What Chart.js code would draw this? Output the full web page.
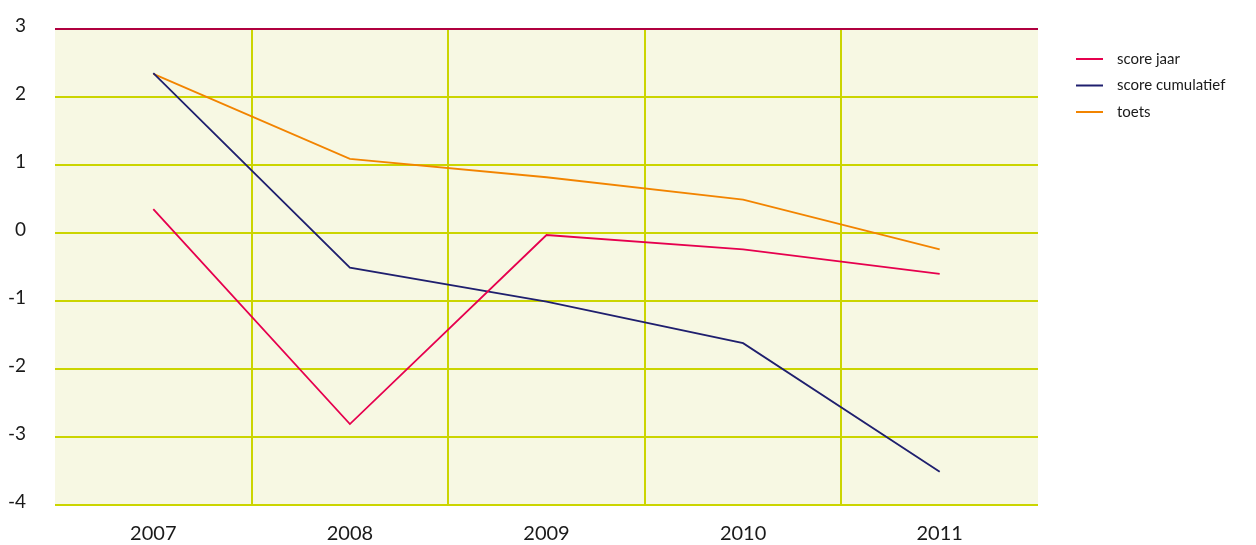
<!DOCTYPE html>
<html>
<head>
<meta charset="utf-8">
<script src="https://cdn.jsdelivr.net/npm/chart.js@4/dist/chart.umd.min.js"></script>
<style>
  html, body { margin: 0; padding: 0; background: #ffffff; }
  #wrap { width: 1256px; height: 545px; position: relative; }
</style>
</head>
<body>
<div id="wrap"><canvas id="c" width="1256" height="545"></canvas></div>
<script>
// Years along the x axis
const years = ['2007', '2008', '2009', '2010', '2011'];

// Series values per year
const scoreJaar = [0.35, -2.81, -0.03, -0.24, -0.60];
const scoreCumulatief = [2.35, -0.51, -1.01, -1.62, -3.51];
const toets = [2.34, 1.09, 0.82, 0.49, -0.24];

// Series names
const seriesNames = ['score jaar', 'score cumulatief', 'toets'];

// Y axis range
const yMin = -4;
const yMax = 3;

const colors = ['#e6004e', '#1f1f6e', '#f28400'];
const gridColor = '#cbd500';
const topLineColor = '#b0003f';
const plotFill = '#f7f8e3';

// Fills the plotting area with a pale background
const plotBackground = {
  id: 'plotBackground',
  beforeDraw(chart) {
    const { ctx, chartArea: a } = chart;
    ctx.save();
    ctx.fillStyle = plotFill;
    ctx.fillRect(a.left, a.top, a.right - a.left, a.bottom - a.top);
    ctx.restore();
  }
};

// Legend drawn to the right of the plot: short line + label per series
const sideLegend = {
  id: 'sideLegend',
  afterDraw(chart) {
    const { ctx } = chart;
    ctx.save();
    ctx.font = '15px Lato, "Open Sans", sans-serif';
    ctx.textBaseline = 'middle';
    ctx.textAlign = 'left';
    chart.data.datasets.forEach((ds, i) => {
      const y = 59 + i * 26.5;
      ctx.strokeStyle = ds.borderColor;
      ctx.lineWidth = 2;
      ctx.beginPath();
      ctx.moveTo(1076, y);
      ctx.lineTo(1103, y);
      ctx.stroke();
      ctx.fillStyle = '#1a1a1a';
      ctx.fillText(ds.label, 1117, y);
    });
    ctx.restore();
  }
};

const seriesValues = [scoreJaar, scoreCumulatief, toets];

new Chart(document.getElementById('c'), {
  type: 'line',
  data: {
    labels: years,
    datasets: seriesNames.map((name, i) => ({
      label: name,
      data: seriesValues[i],
      borderColor: colors[i],
      backgroundColor: colors[i],
      borderWidth: 1.8,
      pointRadius: 0,
      pointHoverRadius: 0,
      tension: 0,
      fill: false
    }))
  },
  options: {
    responsive: false,
    animation: false,
    events: [],
    layout: { padding: { top: 29, right: 218, left: 0, bottom: 0 } },
    plugins: {
      legend: { display: false },
      tooltip: { enabled: false }
    },
    scales: {
      x: {
        offset: true,
        border: { display: false },
        grid: {
          offset: true,
          drawTicks: false,
          lineWidth: 2,
          // only the inner category separators are drawn
          color: (c) => (c.type === 'tick' && c.index > 0 && c.index < years.length ? gridColor : 'rgba(0,0,0,0)')
        },
        ticks: {
          padding: 17,
          color: '#1a1a1a',
          font: { family: 'Lato, "Open Sans", sans-serif', size: 20 }
        },
        afterFit(scale) { scale.height = 40; scale.paddingLeft = 0; scale.paddingRight = 0; }
      },
      y: {
        min: yMin,
        max: yMax,
        border: { display: false },
        grid: {
          drawTicks: false,
          lineWidth: 2,
          color: (c) => (c.tick && c.tick.value === yMax ? topLineColor : gridColor)
        },
        ticks: {
          stepSize: 1,
          padding: 29,
          labelOffset: -3.5,
          color: '#1a1a1a',
          font: { family: 'Lato, "Open Sans", sans-serif', size: 19 }
        },
        afterFit(scale) { scale.width = 55; scale.paddingTop = 0; scale.paddingBottom = 0; }
      }
    }
  },
  plugins: [plotBackground, sideLegend]
});
</script>
</body>
</html>
